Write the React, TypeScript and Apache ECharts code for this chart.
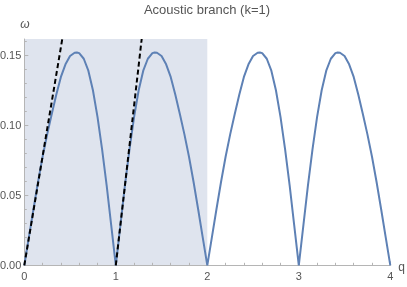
import React, { useEffect, useRef } from "react";
import * as echarts from "echarts";

// Curve readings (q, ω) from the reference
const qValues = [
  0, 0.05, 0.1, 0.15, 0.2, 0.25, 0.3, 0.35, 0.4, 0.45, 0.5, 0.55, 0.575, 0.6, 0.65, 0.7, 0.75, 0.8, 0.85, 0.9, 0.95, 1.0,
  1.05, 1.1, 1.15, 1.2, 1.25, 1.3, 1.35, 1.4, 1.425, 1.45, 1.5, 1.55, 1.6, 1.65, 1.7, 1.75, 1.8, 1.85, 1.9, 1.95, 2.0,
  2.05, 2.1, 2.15, 2.2, 2.25, 2.3, 2.35, 2.4, 2.45, 2.5, 2.55, 2.575, 2.6, 2.65, 2.7, 2.75, 2.8, 2.85, 2.9, 2.95, 3.0,
  3.05, 3.1, 3.15, 3.2, 3.25, 3.3, 3.35, 3.4, 3.425, 3.45, 3.5, 3.55, 3.6, 3.65, 3.7, 3.75, 3.8, 3.85, 3.9, 3.95, 4.0,
];
const omegaValues = [
  0, 0.02, 0.04, 0.0595, 0.0775, 0.0935, 0.108, 0.122, 0.1345, 0.1435, 0.1495, 0.1518, 0.152, 0.1515, 0.1475, 0.139, 0.125, 0.106, 0.083, 0.057, 0.0285, 0,
  0.0285, 0.057, 0.083, 0.106, 0.125, 0.139, 0.1475, 0.1515, 0.152, 0.1518, 0.1495, 0.1435, 0.1345, 0.122, 0.108, 0.0935, 0.0775, 0.0595, 0.04, 0.02, 0,
  0.02, 0.04, 0.0595, 0.0775, 0.0935, 0.108, 0.122, 0.1345, 0.1435, 0.1495, 0.1518, 0.152, 0.1515, 0.1475, 0.139, 0.125, 0.106, 0.083, 0.057, 0.0285, 0,
  0.0285, 0.057, 0.083, 0.106, 0.125, 0.139, 0.1475, 0.1515, 0.152, 0.1518, 0.1495, 0.1435, 0.1345, 0.122, 0.108, 0.0935, 0.0775, 0.0595, 0.04, 0.02, 0,
];

// Dashed tangent lines (q, ω) endpoints
const tangent1Q = [0, 0.415];
const tangent1W = [0, 0.1616];
const tangent2Q = [1, 1.283];
const tangent2W = [0, 0.1616];

// Shaded region (first Brillouin zone)
const shadeQ = [0, 2];

const yTicks = [0, 0.05, 0.1, 0.15];
const xTicks = [0, 1, 2, 3, 4];

const Y_MAX = 0.1616;
const FONT = "'Liberation Sans', Arial, sans-serif";
const AXIS_COLOR = "#b5b5b5";
const LABEL_COLOR = "#555555";

export default function App() {
  const ref = useRef<HTMLDivElement>(null);

  useEffect(() => {
    if (!ref.current) return;
    const chart = echarts.init(ref.current, undefined, { renderer: "svg" });
    const curve = qValues.map((q, i) => [q, omegaValues[i]]);
    const t1 = tangent1Q.map((q, i) => [q, tangent1W[i]]);
    const t2 = tangent2Q.map((q, i) => [q, tangent2W[i]]);

    chart.setOption({
      animation: false,
      grid: {
        left: 24.3,
        right: 16.7,
        top: 39,
        bottom: 21.7,
        containLabel: false,
        outerBoundsMode: "none",
      },
      graphic: [
        {
          type: "text",
          x: 207,
          y: 9,
          style: {
            text: "Acoustic branch (k=1)",
            fill: LABEL_COLOR,
            font: `13px ${FONT}`,
            textAlign: "center",
            textVerticalAlign: "middle",
          },
        },
        {
          type: "text",
          x: 25,
          y: 24,
          style: {
            text: "ω",
            fill: LABEL_COLOR,
            font: `italic 12px ${FONT}`,
            textAlign: "center",
            textVerticalAlign: "middle",
          },
        },
        {
          type: "text",
          x: 401.5,
          y: 266.5,
          style: {
            text: "q",
            fill: LABEL_COLOR,
            font: `12px ${FONT}`,
            textAlign: "center",
            textVerticalAlign: "middle",
          },
        },
      ],
      xAxis: {
        type: "value",
        min: 0,
        max: 4,
        interval: 1,
        z: 4,
        axisLine: { show: true, onZero: false, lineStyle: { color: AXIS_COLOR, width: 1 } },
        axisTick: { show: true, inside: true, length: 4, lineStyle: { color: AXIS_COLOR }, customValues: xTicks },
        minorTick: { show: true, splitNumber: 5, length: 2.5, lineStyle: { color: AXIS_COLOR } },
        axisLabel: {
          color: LABEL_COLOR,
          fontSize: 11,
          fontFamily: FONT,
          margin: 5,
          customValues: xTicks,
        },
        splitLine: { show: false },
      },
      yAxis: {
        type: "value",
        min: 0,
        max: Y_MAX,
        interval: 0.05,
        z: 4,
        axisLine: { show: true, onZero: false, lineStyle: { color: AXIS_COLOR, width: 1 } },
        axisTick: { show: true, inside: true, length: 4, lineStyle: { color: AXIS_COLOR }, customValues: yTicks },
        minorTick: { show: true, splitNumber: 5, length: 2.5, lineStyle: { color: AXIS_COLOR } },
        axisLabel: {
          color: LABEL_COLOR,
          fontSize: 11,
          fontFamily: FONT,
          margin: 3,
          customValues: yTicks,
          formatter: (v: number) => v.toFixed(2),
        },
        splitLine: { show: false },
      },
      series: [
        {
          type: "line",
          data: [],
          z: 1,
          markArea: {
            silent: true,
            itemStyle: { color: "#dfe4ee" },
            data: [[{ xAxis: shadeQ[0] }, { xAxis: shadeQ[1] }]],
          },
        },
        {
          type: "line",
          data: curve,
          showSymbol: false,
          symbol: "none",
          clip: true,
          lineStyle: { color: "#5e81b5", width: 2 },
          z: 5,
        },
        {
          type: "line",
          data: t1,
          showSymbol: false,
          symbol: "none",
          clip: true,
          lineStyle: { color: "#000000", width: 2, type: [5, 3] },
          z: 6,
        },
        {
          type: "line",
          data: t2,
          showSymbol: false,
          symbol: "none",
          clip: true,
          lineStyle: { color: "#000000", width: 2, type: [5, 3] },
          z: 6,
        },
      ],
    });
    return () => chart.dispose();
  }, []);

  return (
    <div
      ref={ref}
      style={{ position: "fixed", left: 0, top: 0, width: 407, height: 287 }}
    />
  );
}
